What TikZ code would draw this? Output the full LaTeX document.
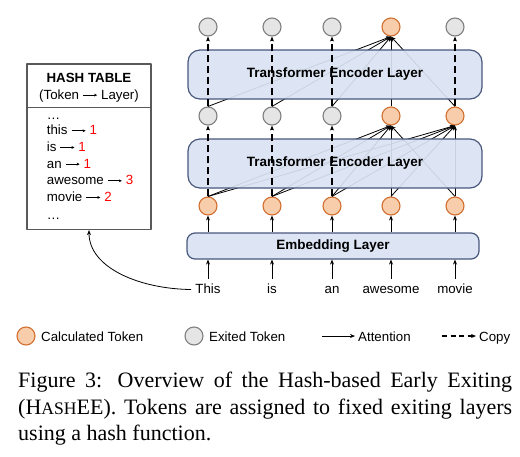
\documentclass[tikz,border=0pt]{standalone}
\usepackage{fontspec}
\setmainfont{Liberation Sans}
\newfontfamily\capfont{Liberation Serif}
\usetikzlibrary{arrows.meta}
\definecolor{calcfill}{RGB}{248,205,172}
\definecolor{calcdraw}{RGB}{209,112,48}
\definecolor{exitfill}{RGB}{229,229,229}
\definecolor{exitdraw}{RGB}{128,128,128}
\definecolor{layerfill}{RGB}{218,227,243}
\definecolor{layerdraw}{RGB}{72,88,124}
\newcommand{\harr}{\tikz[baseline=-4.2pt]\draw[-{Stealth[length=3pt,width=2.8pt]},line width=.6pt] (0pt,0pt) -- (14pt,0pt);}
\tikzset{
	calc/.style={circle,draw=calcdraw,fill=calcfill,line width=1.1pt,minimum size=18pt,inner sep=0pt},
	exit/.style={circle,draw=exitdraw,fill=exitfill,line width=1.1pt,minimum size=18pt,inner sep=0pt},
	layer/.style={draw=layerdraw,fill=layerfill,fill opacity=.92,text opacity=1,line width=1.2pt,font=\bfseries\fontsize{13.5}{16}\selectfont},
	att/.style={->,line width=.8pt},
	copyline/.style={->,line width=1.3pt,dash pattern=on 7pt off 4pt},
	word/.style={inner sep=4pt,text height=10pt,text depth=3pt},
}
\begin{document}
\begin{tikzpicture}[x=1pt,y=-1pt,>={Stealth[length=5pt,width=4pt]},line join=round,font=\fontsize{13.3}{16}\selectfont]
	\useasboundingbox (0,0) rectangle (520,456);
	\foreach \n/\x/\w/\ms/\ts in {1/208/This/exit/exit,2/272/is/exit/exit,3/332/an/exit/exit,4/391/awesome/calc/calc,5/455/movie/calc/exit}{
		\node[word,anchor=base] (w\n) at (\x,293) {\w};
		\node[calc] (b\n) at (\x,206) {};
		\node[\ms] (m\n) at (\x,116) {};
		\node[\ts] (t\n) at (\x,27) {};
	}
	\node[layer,rounded corners=8pt,minimum width=292pt,minimum height=26pt] (emb) at (333,246) {Embedding Layer};
	\foreach \n in {1,...,5}{
		\draw[->,line width=.8pt] (w\n.north) -- (emb.south -| w\n.north);
		\draw[->,line width=.8pt] (emb.north -| b\n.south) -- (b\n.south);
		\foreach \j in {4,5}\draw[att] (b\n.north) -- (m\j.south);
		\draw[att] (m\n.north) -- (t4.south);
	}
	\node[layer,rounded corners=12pt,minimum width=294pt,minimum height=49pt] (tel1) at (335,163.5) {Transformer Encoder Layer};
	\node[layer,rounded corners=12pt,minimum width=294pt,minimum height=49pt] (tel2) at (335,74.5) {Transformer Encoder Layer};
	\foreach \n in {1,2,3}\draw[copyline] (b\n.north) -- (m\n.south);
	\foreach \n in {1,2,3,5}\draw[copyline] (m\n.north) -- (t\n.south);
	% hash table
	\node[draw=black!65,line width=1.2pt,minimum width=124pt,minimum height=165.5pt,inner sep=0pt] (hash) at (89,146.75) {};
	\node[anchor=base,font=\bfseries\fontsize{13.3}{16}\selectfont] (htitle) at (89,82.7) {HASH TABLE};
	\node[anchor=base] (hsub) at (89,99.3) {(Token \harr\ Layer)};
	\draw[black!65,line width=1.2pt] (hash.west |- 0,107.7) -- (hash.east |- 0,107.7);
	\node[anchor=base west,inner sep=0pt] (dots1) at (46.7,119.3) {…};
	\foreach \tok/\lay [count=\i] in {this/1,is/1,an/1,awesome/3,movie/2}
		\node[anchor=base west,inner sep=0pt] (e\i) at (46.7,{118.3+16.67*\i}) {\tok\ \harr\ \textcolor{red}{\lay}};
	\node[anchor=base west,inner sep=0pt] (dots2) at (46.7,219) {…};
	\draw[->,line width=.8pt] (w1.west) .. controls (140,289) and (89,268) .. (hash.south);
	% legend
	\node[calc] (lc) at (26,336) {};
	\node[anchor=base west,inner sep=0pt] (lct) at (41,341) {Calculated Token};
	\node[exit] (le) at (194,336) {};
	\node[anchor=base west,inner sep=0pt] (let) at (209,341) {Exited Token};
	\coordinate (la1) at (322,336);
	\node[anchor=base west,inner sep=3pt] (lat) at (355,341) {Attention};
	\draw[att] (la1) -- (la1 -| lat.west);
	\coordinate (la2) at (442,336);
	\node[anchor=base west,inner sep=3pt] (lcp) at (476,341) {Copy};
	\draw[copyline,dash pattern=on 5pt off 3.5pt] (la2) -- (la2 -| lcp.west);
	\node[anchor=north west,text width=494pt,align=justify,inner sep=0pt,font=\capfont\fontsize{22}{26.5}\selectfont] (cap) at (18,372) {\tolerance=10000\relax\hbadness=10000\relax Figure 3: Overview of the Hash-based Early Exiting\linebreak (H{\fontsize{17.6}{26.5}\selectfont ASH}EE). Tokens are assigned to fixed exiting layers\linebreak using a hash function.};
\end{tikzpicture}
\end{document}
